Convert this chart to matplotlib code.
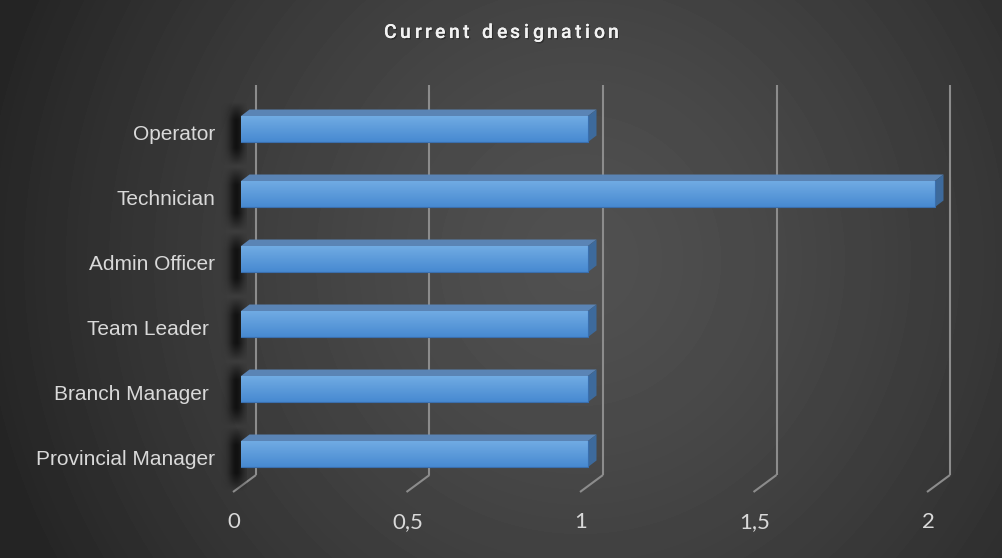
import matplotlib
matplotlib.use("Agg")
import matplotlib.pyplot as plt
import matplotlib.patheffects as pe
from matplotlib.transforms import offset_copy
from matplotlib.patches import Polygon
import numpy as np

# Data
categories = ["Provincial Manager", "Branch Manager ", "Team Leader ",
              "Admin Officer", "Technician", "Operator"]
counts = [1, 1, 1, 1, 2, 1]
ticks = [0, 0.5, 1, 1.5, 2]
tick_labels = ["0", "0,5", "1", "1,5", "2"]
title = "Current designation"

W, H = 1003, 558
fig = plt.figure(figsize=(W / 100, H / 100), dpi=100)

# dark radial background
bg = fig.add_axes([0, 0, 1, 1], zorder=0)
yy, xx = np.mgrid[0:H, 0:W]
r = np.sqrt(((xx - 580) / 580) ** 2 + ((yy - 260) / 600) ** 2)
shade = np.clip(0.315 - 0.16 * r ** 1.4, 0.145, 0.32)
bg.imshow(shade, cmap="gray", vmin=0, vmax=1, aspect="auto",
          extent=[0, W, H, 0], interpolation="bilinear")
bg.axis("off")

# plot area: x=0 at the bars' front face, categories 65px apart
ax = fig.add_axes([241 / W, (H - 475) / H, (935 - 241) / W, 390 / H], zorder=1)
ax.patch.set_visible(False)
ax.axis("off")
xmin, xmax = 0, 2
ymin, ymax = -0.323, 5.677
px_x = (xmax - xmin) / (935 - 241)
px_y = (ymax - ymin) / 390

# perspective gridlines on the back wall, bending onto the floor
grid_col = "#8c8c8c"
for t in ticks:
    xb = t + 15 * px_x
    ax.plot([xb, xb], [ymin, ymax], color=grid_col, lw=1.5, zorder=1,
            clip_on=False, solid_capstyle="butt")
    ax.plot([xb, t - 8 * px_x], [ymin, ymin - 17 * px_y], color=grid_col,
            lw=1.5, zorder=1, clip_on=False, solid_capstyle="butt")

# 3d bars
half = 0.2
dx, dy = 8.5 * px_x, 6.5 * px_y
front = np.linspace(0, 1, 32)[:, None]
c_top = np.array([0.44, 0.67, 0.89])
c_bot = np.array([0.28, 0.54, 0.82])
grad = (c_top * (1 - front) + c_bot * front)[:, None, :]

# soft shadow the bars cast on the left wall
sx = np.linspace(0, 1, 60)
sy = np.linspace(0, 1, 80)
shadow = np.zeros((80, 60, 4))
shadow[..., 3] = (np.exp(-((sx[None, :] - 0.6) / 0.3) ** 2)
                  * np.clip(np.sin(np.pi * sy[:, None]) * 1.3, 0, 1) * 0.7)

for i, v in enumerate(counts):
    y0, y1 = i - half, i + half
    ax.imshow(shadow, extent=[-20 * px_x, 6 * px_x, y0 - 24 * px_y, y1 + 14 * px_y],
              aspect="auto", zorder=2, interpolation="bilinear", clip_on=False)
    ax.add_patch(Polygon([(0, y1), (v, y1), (v + dx, y1 + dy), (dx, y1 + dy)],
                         closed=True, fc="#5a84b5", ec="none", zorder=3,
                         clip_on=False))
    ax.add_patch(Polygon([(v, y0), (v, y1), (v + dx, y1 + dy), (v + dx, y0 + dy)],
                         closed=True, fc="#3d6a9c", ec="none", zorder=3,
                         clip_on=False))
    ax.imshow(grad, extent=[0, v, y0, y1], aspect="auto", zorder=4,
              interpolation="bilinear", clip_on=False)
    ax.plot([0, v, v], [y0, y0, y1], color="#3a6fae", lw=0.8, zorder=5,
            clip_on=False)

# category labels
lab_tr = offset_copy(ax.transData, fig, x=-26, y=-5, units="dots")
for i, name in enumerate(categories):
    ax.text(0, i, name, ha="right", va="center", transform=lab_tr,
            color="#d9d9d9", fontsize=15, family="Liberation Sans")

# value axis labels on the floor edge
tick_tr = offset_copy(ax.transData, fig, x=-7, y=-47, units="dots")
for t, lbl in zip(ticks, tick_labels):
    ax.text(t, ymin, lbl, ha="center", va="center", transform=tick_tr,
            color="#d9d9d9", fontsize=16, family="Lato")

ax.set_xlim(xmin, xmax)
ax.set_ylim(ymin, ymax)

# spaced-out title, placed one character at a time to fill its width
renderer = fig.canvas.get_renderer()
tsize = 14
left, right = 384, 619
shadow_fx = [pe.withSimplePatchShadow(offset=(1, -1), shadow_rgbFace="black",
                                      alpha=0.3), pe.Normal()]
chars = []
for ch in title:
    t = fig.text(0, 1 - 33 / H, ch if ch != " " else "n", ha="left",
                 va="center", color="#f2f2f2", fontsize=tsize,
                 fontweight="medium", family="Roboto",
                 path_effects=shadow_fx)
    w = t.get_window_extent(renderer).width
    if ch == " ":
        t.set_visible(False)
        w *= 0.5
    chars.append((t, w))
gap = (right - left - sum(w for _, w in chars)) / (len(chars) - 1)
x = left
for t, w in chars:
    t.set_x(round(x) / W)
    x += w + gap

fig.savefig("out.png", dpi=100)
